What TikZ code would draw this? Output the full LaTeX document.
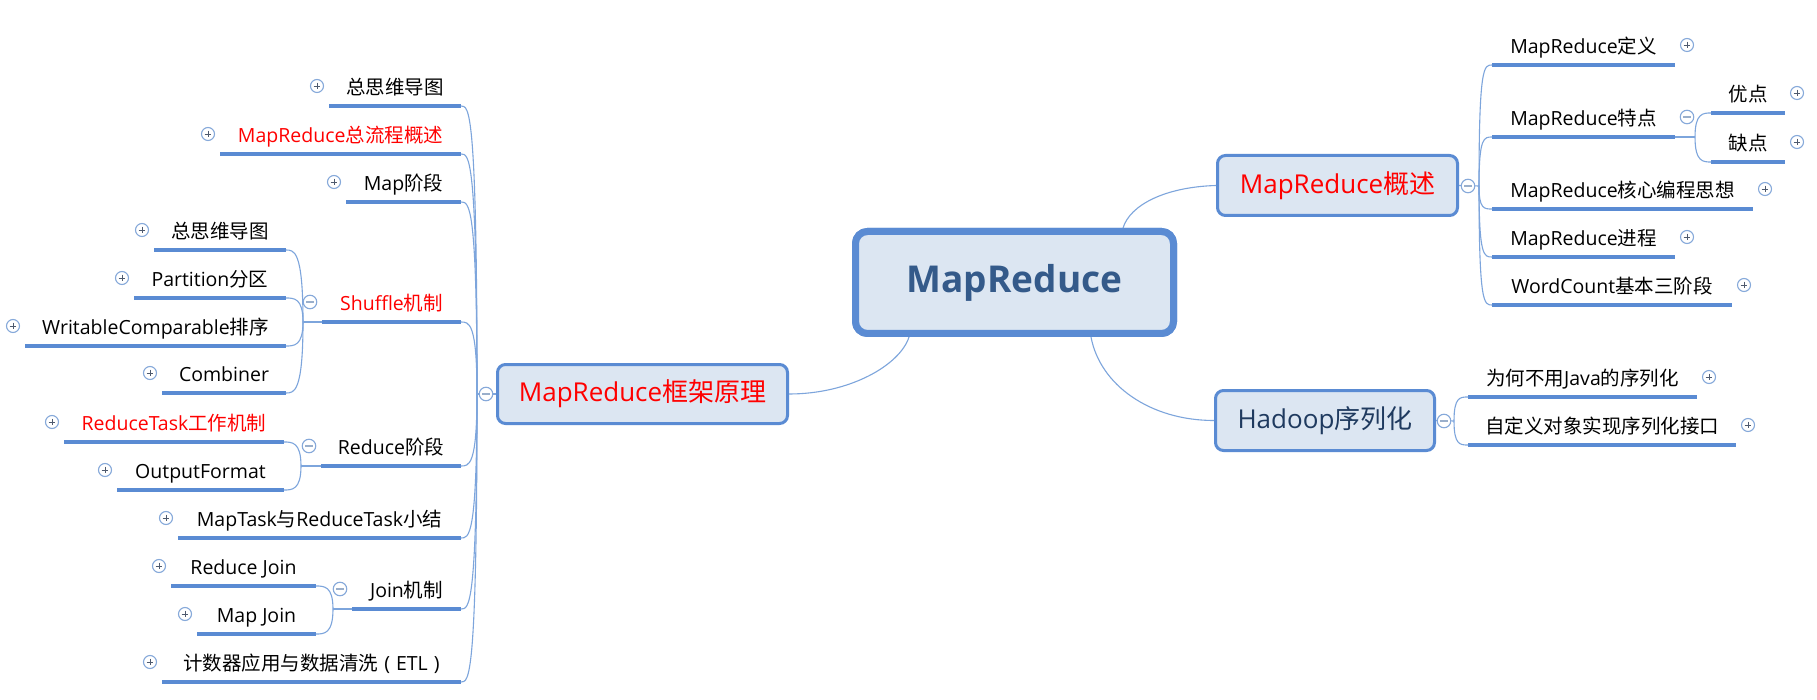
\documentclass[tikz,border=0pt]{standalone}
\usepackage{fontspec}
\setmainfont{Open Sans}
\newfontfamily\cjk{Noto Sans CJK SC}
\usetikzlibrary{calc}
\newcommand\zh[1]{{\cjk #1}}
\definecolor{ulc}{HTML}{5A8BD3}
\definecolor{brc}{HTML}{7DA5DC}
\definecolor{boxfill}{HTML}{DCE6F2}
\definecolor{boxdraw}{HTML}{5A8BD3}
\definecolor{roottext}{HTML}{345A8A}
\definecolor{hdtext}{HTML}{1F3A5F}
\definecolor{iconc}{HTML}{86A9DA}
\definecolor{plusc}{HTML}{4E5A6E}
\definecolor{minusc}{HTML}{9AAFCB}
\definecolor{mred}{HTML}{FF0000}
\tikzset{
  ul/.style={line width=4, draw=ulc},
  br/.style={line width=1.1, draw=brc},
  txt/.style={inner sep=0, text height=0.88em, text depth=0.12em, font=\fontsize{19.5}{23}\selectfont},
  lone/.style={draw=boxdraw, fill=boxfill, line width=3, rounded corners=8, inner sep=0, font=\fontsize{26}{30}\selectfont},
  rootbox/.style={draw=boxdraw, fill=boxfill, line width=7, rounded corners=12, inner sep=0, minimum width=318, minimum height=102, text=roottext, font=\bfseries\fontsize{37}{44}\selectfont},
  plusicon/.style={circle, draw=iconc, fill=white, line width=1.1, minimum size=13, inner sep=0,
    path picture={\draw[plusc, line width=0.9] ($(path picture bounding box.center)+(-3.4,0)$) -- ++(6.8,0) ($(path picture bounding box.center)+(0,-3.4)$) -- ++(0,6.8);}},
  minusicon/.style={circle, draw=iconc, fill=white, line width=1.1, minimum size=13.5, inner sep=0,
    path picture={\draw[minusc, line width=1.2] ($(path picture bounding box.center)+(-3.6,0)$) -- ++(7.2,0);}},
}
% leaf: name, x1, x2, y (underline), icon, text
\newcommand\lleaf[6]{%
  \draw[ul] (#2,#4) coordinate (#1w) -- (#3,#4) coordinate (#1e);
  \node[txt] (#1t) at ({(#2+#3)/2},{#4-15.5}) {#6};
  \node[#5] (#1i) at ({#2-12},{#4-20}) {};
}
\newcommand\rleaf[6]{%
  \draw[ul] (#2,#4) coordinate (#1w) -- (#3,#4) coordinate (#1e);
  \node[txt] (#1t) at ({(#2+#3)/2},{#4-15.5}) {#6};
  \node[#5] (#1i) at ({#3+12},{#4-20}) {};
}
\newcommand\lbr[2]{\draw[br] (#1) .. controls (#1 |- #2) and ($(#2)+(8,0)$) .. (#2);}
\newcommand\rbr[2]{\draw[br] (#1) .. controls (#1 |- #2) and ($(#2)+(-8,0)$) .. (#2);}
\begin{document}
\begin{tikzpicture}[x=1pt,y=-1pt]
\useasboundingbox[fill=white] (0,0) rectangle (1817,700);

% ---------- level 1 boxes ----------
\path (1014.5,282.5) node[rootbox] (root) {MapReduce};
\path (642.5,394) node[lone, minimum width=290, minimum height=59, text=mred] (frame) {MapReduce\zh{框架原理}};
\path (1337.5,185.5) node[lone, minimum width=240, minimum height=60, text=mred] (ov) {MapReduce\zh{概述}};
\path (1325,420.5) node[lone, minimum width=219, minimum height=60, text=hdtext] (hd) {Hadoop\zh{序列化}};

% ---------- root connectors ----------
\draw[br] ($(root.south)+(-105.5,0)$) .. controls (900,365) and (850,394) .. (frame.east);
\draw[br] ($(root.north)+(108.5,0)$) .. controls (1130,205) and (1165,187) .. (ov.west);
\draw[br] ($(root.south)+(76.5,0)$) .. controls (1100,385) and (1150,420.5) .. (hd.west);
\path (1014.5,282.5) node[rootbox] (rootfront) {MapReduce};

% ---------- left side ----------
\lleaf{a}{329}{461}{106}{plusicon}{\zh{总思维导图}}
\lleaf{b}{220}{461}{154}{plusicon}{\textcolor{mred}{MapReduce\zh{总流程概述}}}
\lleaf{c}{346}{461}{202}{plusicon}{Map\zh{阶段}}
\lleaf{d}{322}{461}{322}{minusicon}{\textcolor{mred}{Shuffle\zh{机制}}}
\lleaf{e}{321}{461}{466}{minusicon}{Reduce\zh{阶段}}
\lleaf{f}{178}{461}{538}{plusicon}{MapTask\zh{与}ReduceTask\zh{小结}}
\lleaf{g}{352}{461}{609}{minusicon}{Join\zh{机制}}
\lleaf{h}{162}{461}{682}{plusicon}{\zh{计数器应用与数据清洗}\hspace{6pt}(\hspace{6pt}ETL\hspace{6pt})}

\lleaf{da}{154}{286}{250}{plusicon}{\zh{总思维导图}}
\lleaf{db}{134}{286}{298}{plusicon}{Partition\zh{分区}}
\lleaf{dc}{25}{286}{346}{plusicon}{WritableComparable\zh{排序}}
\lleaf{dd}{162}{286}{393}{plusicon}{Combiner}

\lleaf{ea}{64}{284}{442}{plusicon}{\textcolor{mred}{ReduceTask\zh{工作机制}}}
\lleaf{eb}{117}{284}{490}{plusicon}{OutputFormat}

\lleaf{ga}{171}{316}{586}{plusicon}{Reduce Join}
\lleaf{gb}{197}{316}{634}{plusicon}{Map Join}

\coordinate (jL) at (477,394);
\draw[br] (jL) -- (frame.west);
\foreach \n in {ae,be,ce,de,ee,fe,ge,he} {\lbr{jL}{\n}}
\coordinate (jS) at (303,322);
\draw[br] (jS) -- (dw);
\foreach \n in {dae,dbe,dce,dde} {\lbr{jS}{\n}}
\coordinate (jR) at (301,466);
\draw[br] (jR) -- (ew);
\foreach \n in {eae,ebe} {\lbr{jR}{\n}}
\coordinate (jJ) at (333,609);
\draw[br] (jJ) -- (gw);
\foreach \n in {gae,gbe} {\lbr{jJ}{\n}}
\node[minusicon] (framei) at (486,394) {};

% ---------- right side: overview ----------
\rleaf{oa}{1492}{1675}{65}{plusicon}{MapReduce\zh{定义}}
\rleaf{ob}{1492}{1675}{137}{minusicon}{MapReduce\zh{特点}}
\rleaf{oc}{1492}{1753}{209}{plusicon}{MapReduce\zh{核心编程思想}}
\rleaf{od}{1492}{1675}{257}{plusicon}{MapReduce\zh{进程}}
\rleaf{oe}{1492}{1732}{305}{plusicon}{WordCount\zh{基本三阶段}}
\rleaf{ba}{1711}{1785}{113}{plusicon}{\zh{优点}}
\rleaf{bb}{1711}{1785}{162}{plusicon}{\zh{缺点}}

\coordinate (jO) at (1479,186);
\draw[br] (ov.east) -- (jO);
\foreach \n in {oaw,obw,ocw,odw,oew} {\rbr{jO}{\n}}
\coordinate (jT) at (1695,137);
\draw[br] (obe) -- (jT);
\foreach \n in {baw,bbw} {\rbr{jT}{\n}}
\node[minusicon] (ovi) at (1468,186) {};

% ---------- right side: Hadoop ----------
\rleaf{ha}{1468}{1697}{397}{plusicon}{\zh{为何不用}Java\zh{的序列化}}
\rleaf{hb}{1468}{1736}{445}{plusicon}{\zh{自定义对象实现序列化接口}}
\coordinate (jH) at (1454,421);
\draw[br] (hd.east) -- (jH);
\foreach \n in {haw,hbw} {\rbr{jH}{\n}}
\node[minusicon] (hdi) at (1444,421) {};
\end{tikzpicture}
\end{document}
